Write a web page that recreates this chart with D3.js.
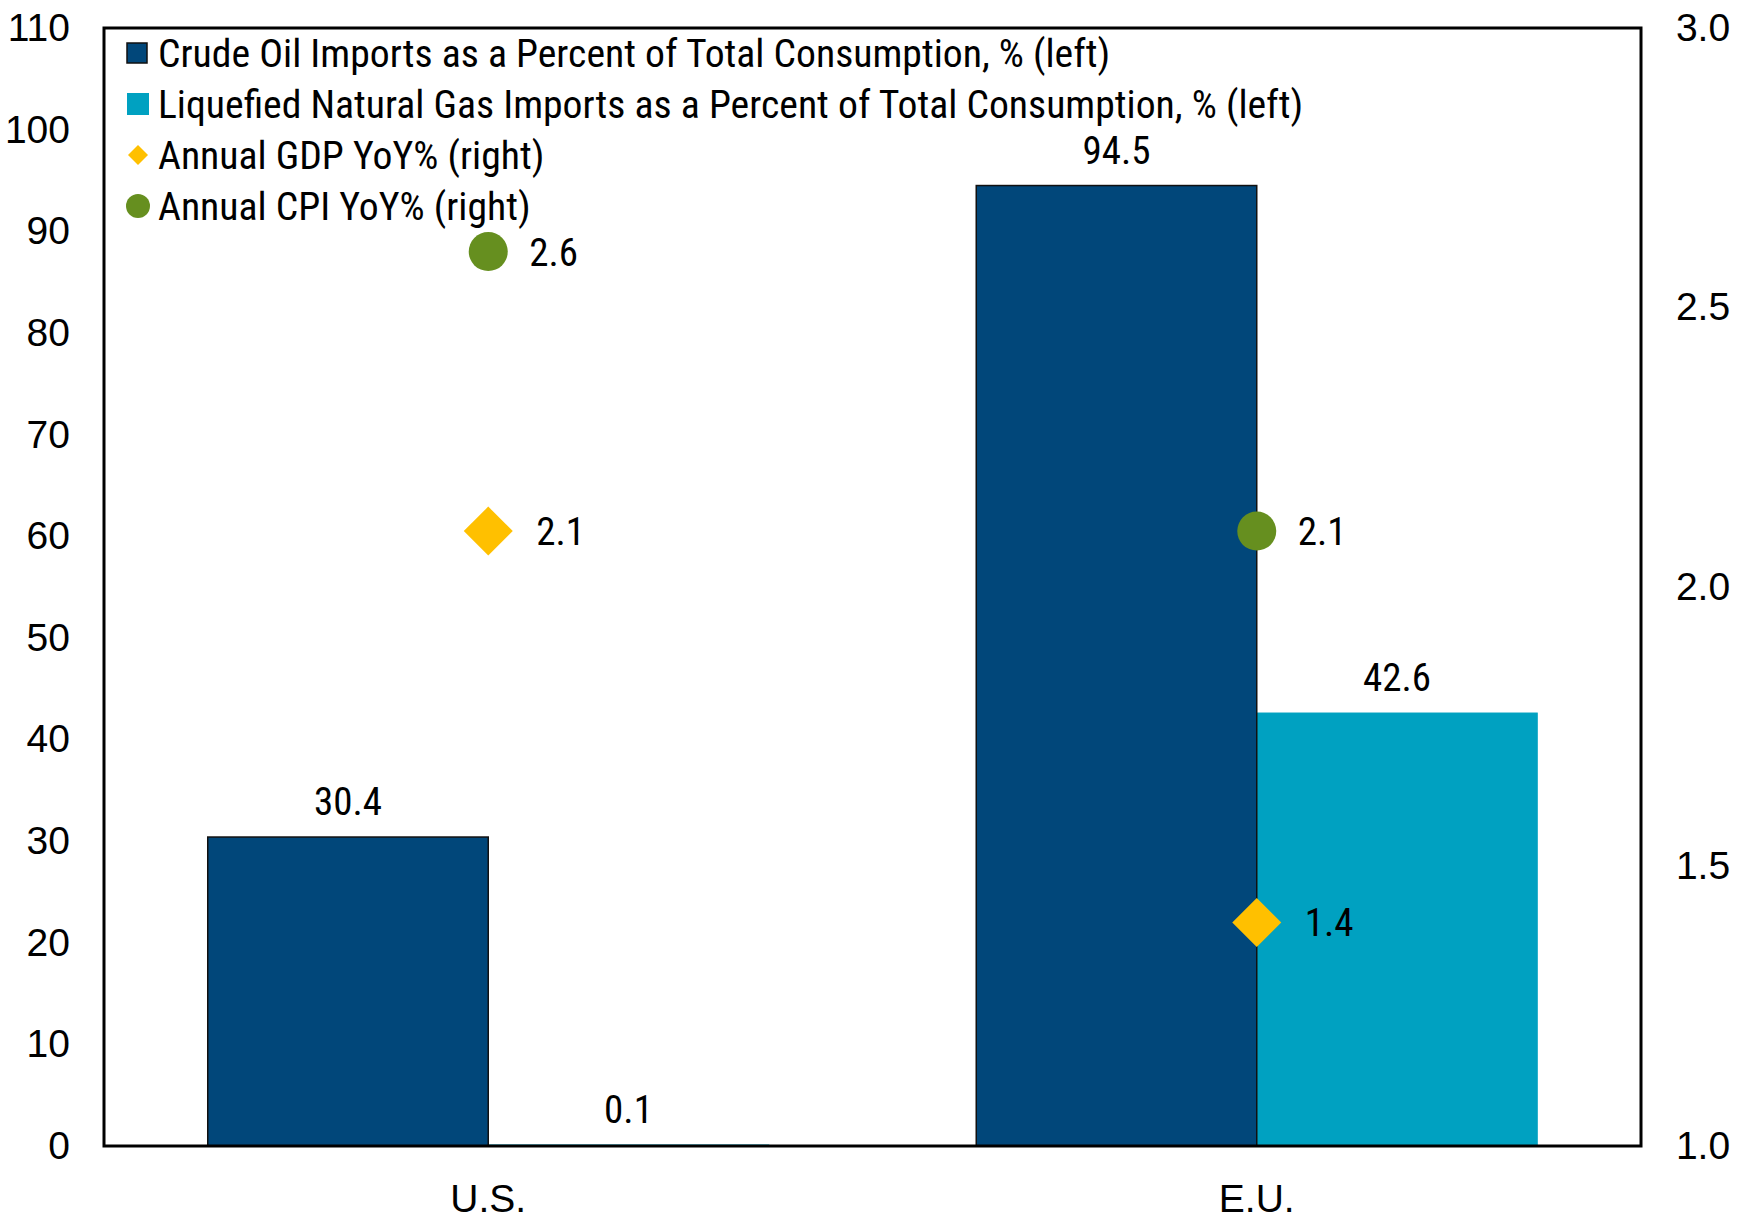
<!DOCTYPE html>
<html>
<head>
<meta charset="utf-8">
<script src="https://cdn.jsdelivr.net/npm/d3@7"></script>
<style>
  html, body { margin: 0; padding: 0; background: #fff; }
  svg { display: block; font-family: "Liberation Sans Narrow", "Arial Narrow", "Roboto Condensed", sans-serif; }
</style>
</head>
<body>
<svg id="chart" width="1745" height="1220"></svg>
<script>
// Regions compared
const categories = ["U.S.", "E.U."];

// Bar series (left axis, %)
const crudeOil = [30.4, 94.5];
const lngImports = [0.1, 42.6];

// Point series (right axis, YoY %)
const gdpYoY = [2.1, 1.4];
const cpiYoY = [2.6, 2.1];

// Axis ticks
const leftTicks = [0, 10, 20, 30, 40, 50, 60, 70, 80, 90, 100, 110];
const rightTicks = [1.0, 1.5, 2.0, 2.5, 3.0];

const legendLabels = [
  "Crude Oil Imports as a Percent of Total Consumption, % (left)",
  "Liquefied Natural Gas Imports as a Percent of Total Consumption, % (left)",
  "Annual GDP YoY% (right)",
  "Annual CPI YoY% (right)"
];

const colors = {
  crude: "#01477A",
  lng: "#00A1C1",
  gdp: "#FFC000",
  cpi: "#668F1F"
};

const svg = d3.select("#chart");
const margin = { left: 104, right: 104, top: 28, bottom: 74 };
const W = 1745, H = 1220;
const x0 = margin.left, x1 = W - margin.right;
const y0 = H - margin.bottom, y1 = margin.top;

const x = d3.scaleBand().domain(categories).range([x0, x1]).paddingInner(0.27).paddingOuter(0.135);
const xs = d3.scaleBand().domain(["crude", "lng"]).range([0, x.bandwidth()]);
const yL = d3.scaleLinear().domain([0, 110]).range([y0, y1]);
const yR = d3.scaleLinear().domain([1.0, 3.0]).range([y0, y1]);

const fontSize = 39;
const legendFontSize = 39.7;

// Bars
const rows = categories.map((c, i) => ({ c, crude: crudeOil[i], lng: lngImports[i] }));
const g = svg.append("g");
rows.forEach(r => {
  [["lng", r.lng], ["crude", r.crude]].forEach(([k, v]) => {
    g.append("rect")
      .attr("x", x(r.c) + xs(k))
      .attr("y", yL(v))
      .attr("width", xs.bandwidth())
      .attr("height", yL(0) - yL(v))
      .attr("fill", colors[k])
      .attr("stroke", k === "crude" ? "#111" : colors[k])
      .attr("stroke-width", k === "crude" ? 1.5 : 1);
    g.append("text")
      .attr("x", x(r.c) + xs(k) + xs.bandwidth() / 2)
      .attr("y", yL(v) - 22)
      .attr("text-anchor", "middle")
      .attr("font-size", fontSize)
      .attr("fill", "#000")
      .text(d3.format(".1f")(v));
  });
});

// Points on right axis
const cx = c => x(c) + x.bandwidth() / 2;
categories.forEach((c, i) => {
  const yg = yR(gdpYoY[i]);
  svg.append("path")
    .attr("d", d3.symbol(d3.symbolSquare, 1200)())
    .attr("transform", `translate(${cx(c)},${yg}) rotate(45)`)
    .attr("fill", colors.gdp);
  svg.append("text")
    .attr("x", cx(c) + 48).attr("y", yg)
    .attr("dy", "0.36em")
    .attr("font-size", fontSize)
    .text(d3.format(".1f")(gdpYoY[i]));

  const yc = yR(cpiYoY[i]);
  svg.append("circle")
    .attr("cx", cx(c)).attr("cy", yc).attr("r", 19.5)
    .attr("fill", colors.cpi);
  svg.append("text")
    .attr("x", cx(c) + 41).attr("y", yc)
    .attr("dy", "0.36em")
    .attr("font-size", fontSize)
    .text(d3.format(".1f")(cpiYoY[i]));
});

// Frame
svg.append("rect")
  .attr("x", x0).attr("y", y1)
  .attr("width", x1 - x0).attr("height", y0 - y1)
  .attr("fill", "none").attr("stroke", "#000").attr("stroke-width", 3);

// Axes
const axL = svg.append("g").attr("transform", `translate(${x0},0)`)
  .call(d3.axisLeft(yL).tickValues(leftTicks).tickSize(0).tickPadding(34).tickFormat(d3.format("d")));
const axR = svg.append("g").attr("transform", `translate(${x1},0)`)
  .call(d3.axisRight(yR).tickValues(rightTicks).tickSize(0).tickPadding(36).tickFormat(d3.format(".1f")));
const axB = svg.append("g").attr("transform", `translate(0,${y0})`)
  .call(d3.axisBottom(x).tickSize(0).tickPadding(38));
[axL, axR, axB].forEach(a => {
  a.select(".domain").remove();
  a.selectAll("text").attr("font-size", fontSize).attr("fill", "#000")
    .attr("font-family", null);
});
axR.selectAll("text").attr("text-anchor", "middle").attr("dx", 26);

// Legend
const leg = svg.append("g").attr("transform", `translate(127,53)`);
const rowGap = 51;
legendLabels.forEach((t, i) => {
  const gy = i * rowGap;
  const row = leg.append("g").attr("transform", `translate(0,${gy})`);
  if (i === 0) {
    row.append("rect").attr("x", 0).attr("y", -10).attr("width", 20).attr("height", 20)
      .attr("fill", colors.crude).attr("stroke", "#111").attr("stroke-width", 1.5);
  } else if (i === 1) {
    row.append("rect").attr("x", 0).attr("y", -11).attr("width", 22).attr("height", 22)
      .attr("fill", colors.lng);
  } else if (i === 2) {
    row.append("path").attr("d", d3.symbol(d3.symbolSquare, 200)())
      .attr("transform", "translate(11,0) rotate(45)").attr("fill", colors.gdp);
  } else {
    row.append("circle").attr("cx", 11).attr("cy", 0).attr("r", 12).attr("fill", colors.cpi);
  }
  row.append("text").attr("x", 31).attr("y", 0).attr("dy", "0.36em")
    .attr("font-size", legendFontSize).text(t);
});
</script>
</body>
</html>
